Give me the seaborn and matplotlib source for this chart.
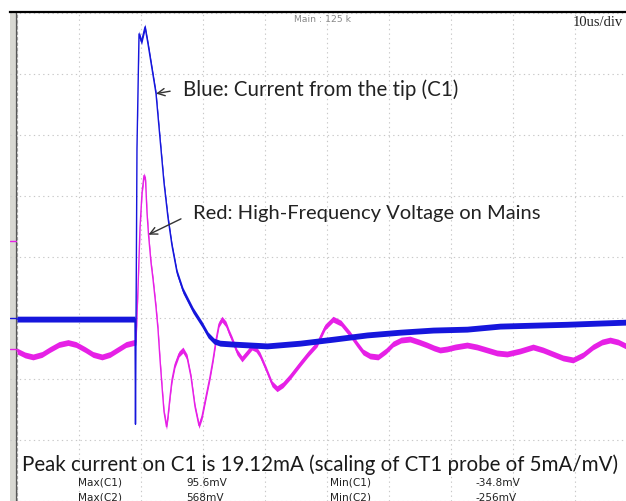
import numpy as np
import pandas as pd
import matplotlib
matplotlib.use("Agg")
import matplotlib.pyplot as plt
import seaborn as sns

# Channel 1 (blue): current probe, mV vs time in us
c1_time = [0.00, 19.03, 19.11, 19.35, 19.68, 20.08, 20.65, 21.13, 21.77, 22.42,
           23.06, 23.71, 24.35, 25.00, 25.81, 26.77, 28.39, 29.84, 30.81, 31.77,
           32.74, 34.84, 40.32, 45.65, 50.97, 56.45, 61.77, 67.10, 72.58, 77.90,
           83.23, 88.71, 94.03, 98.23]
c1_mv = [-0.3, -0.3, -34.8, 55.8, 93.3, 90.7, 95.6, 90.0, 81.9, 73.7,
         59.1, 44.4, 33.0, 23.8, 15.0, 9.1, 2.6, -2.0, -5.5, -7.5,
         -8.2, -8.5, -9.1, -8.2, -6.9, -5.5, -4.6, -3.9, -3.6, -2.6,
         -2.3, -2.0, -1.6, -1.3]

# Channel 2 (magenta): HF voltage on mains
c2_time = [0.00, 1.29, 2.58, 4.03, 5.32, 6.77, 8.23, 9.52, 10.97, 12.26,
           13.71, 15.00, 16.29, 17.58, 18.87, 19.19, 19.52, 19.84, 20.16, 20.48,
           20.73, 20.97, 21.21, 21.61, 21.94, 22.42, 22.74, 23.06, 23.39, 23.71,
           24.11, 24.35, 24.68, 25.00, 25.48, 26.13, 26.77, 27.42, 28.06, 28.71,
           29.35, 29.84, 30.48, 31.13, 31.61, 32.10, 32.58, 33.06, 33.71, 34.19,
           34.68, 35.48, 36.29, 37.10, 37.90, 38.55, 39.19, 40.16, 41.13, 41.94,
           42.90, 44.03, 45.65, 46.94, 48.39, 49.68, 50.97, 52.26, 53.71, 54.84,
           55.81, 56.94, 58.23, 59.52, 60.65, 61.94, 63.39, 64.84, 66.13, 67.26,
           68.23, 69.35, 70.65, 72.58, 74.19, 75.81, 77.42, 79.03, 81.13, 83.23,
           84.84, 86.45, 88.06, 89.68, 91.29, 92.90, 94.35, 95.65, 96.94, 98.23]
c2_mv = [-7.7, -20.7, -27.2, -19.1, -2.8, 13.5, 20.1, 13.5, -2.8, -19.1,
         -27.2, -19.1, -2.8, 13.5, 20.1, 21.7, 201.1, 396.9, 511.1, 568.0,
         553.5, 445.9, 374.1, 282.7, 227.2, 135.9, 64.1, -33.8, -125.1, -206.7,
         -256.0, -223.0, -157.7, -102.3, -53.3, -17.5, -4.4, -27.2, -92.5, -190.4,
         -252.4, -223.0, -157.7, -92.5, -37.0, 28.2, 80.4, 96.7, 80.4, 54.3,
         31.5, -10.9, -33.8, -14.2, 5.4, -1.1, -20.7, -66.4, -115.3, -131.6,
         -118.6, -92.5, -50.1, -17.5, 15.2, 70.6, 96.7, 83.7, 47.8, 15.2,
         -10.9, -24.0, -27.2, -7.7, 15.2, 28.2, 31.5, 21.7, 11.9, 2.1,
         -4.4, -1.1, 5.4, 11.9, 5.4, -4.4, -14.2, -17.5, -7.7, 5.4,
         -4.4, -17.5, -30.5, -37.0, -20.7, 5.4, 21.7, 28.2, 21.7, 8.6]

# scope settings
c1_scale, c1_offset = 20.0, -1.0     # mV/div, div
c2_scale, c2_offset = 200.0, -1.5
trigger_level_mv = 354.0
time_per_div = 10.0

BLUE = "#1616dc"
MAGENTA = "#e620e6"

c1 = pd.DataFrame({"t": c1_time, "div": np.array(c1_mv) / c1_scale + c1_offset})
c2 = pd.DataFrame({"t": c2_time, "div": np.array(c2_mv) / c2_scale + c2_offset})

sns.set_theme(style="white")
plt.rcParams["font.family"] = ["Lato", "DejaVu Sans"]

W, H = 626, 502
fig = plt.figure(figsize=(W / 100, H / 100), dpi=100)
ax = fig.add_axes([10 / W, 0, 616 / W, 489 / H])

x_left = -7 / 62 * time_per_div
ax.set_xlim(x_left, 609 / 62 * time_per_div)
ax.set_ylim(-242.3 / 61.3, 246.7 / 61.3)

# graticule
ax.set_xticks(np.arange(0, 100, time_per_div))
ax.set_yticks(np.arange(-4, 5, 1))
ax.grid(True, color="#c8c8c8", linestyle=(0, (1.2, 3)), linewidth=0.8)
ax.tick_params(length=0, labelbottom=False, labelleft=False)
for side in ["left", "right", "bottom"]:
    ax.spines[side].set_visible(False)
ax.spines["top"].set_color("black")
ax.spines["top"].set_linewidth(1.6)

# left gray strip with channel markers
ax.axvspan(x_left, -0.16, color="#d8d8d2", zorder=0)
ax.axvline(-0.12, color="#555555", lw=0.9)
ax.axvline(0, color="#9a9a9a", lw=0.8, linestyle=(0, (3, 2)))
strip = (-x_left - 0.16) / (ax.get_xlim()[1] - x_left)
ax.axhline(c1_offset, xmin=0, xmax=strip, color=BLUE, lw=1)
ax.axhline(c2_offset, xmin=0, xmax=strip, color=MAGENTA, lw=1)
ax.axhline(trigger_level_mv / c2_scale + c2_offset, xmin=0, xmax=strip, color=MAGENTA, lw=1)

# traces: thin line plus vertical noise band
band = 0.048
for df, col in [(c2, MAGENTA), (c1, BLUE)]:
    ax.fill_between(df["t"], df["div"] - band, df["div"] + band, color=col, lw=0, zorder=3)
    sns.lineplot(data=df, x="t", y="div", ax=ax, color=col, lw=1.0, sort=False,
                 estimator=None, zorder=3)
ax.set_xlabel("")
ax.set_ylabel("")

# annotations
arrow = dict(arrowstyle="->", color="#333333", lw=1.0, relpos=(0, 0.5),
             shrinkA=7, shrinkB=0, mutation_scale=13)
ax.annotate("Blue: Current from the tip (C1)", xy=(c1_time[9], c1["div"][9]),
            xytext=(183, H - 90), textcoords="figure pixels", ha="left", va="center",
            fontsize=14.8, color="#222222", arrowprops=arrow, zorder=5)
ax.annotate("Red: High-Frequency Voltage on Mains", xy=(c2_time[22], c2["div"][22]),
            xytext=(193, H - 214), textcoords="figure pixels", ha="left", va="center",
            fontsize=14.5, color="#222222", arrowprops=arrow, zorder=5)

fig.text(22 / W, 1 - 471 / H, "Peak current on C1 is 19.12mA (scaling of CT1 probe of 5mA/mV)",
         ha="left", va="baseline", fontsize=14.8, color="#1a1a1a")

# measurement table
rows = [("Max(C1)", f"{max(c1_mv):.1f}mV", "Min(C1)", f"{min(c1_mv):.1f}mV", 483),
        ("Max(C2)", f"{max(c2_mv):.0f}mV", "Min(C2)", f"{min(c2_mv):.0f}mV", 498)]
for a, b, c, d, y in rows:
    for x, s in [(78, a), (186, b), (330, c), (475, d)]:
        fig.text(x / W, 1 - y / H, s, ha="left", va="center", fontsize=7.6,
                 family="DejaVu Sans", color="#222222")

fig.text(294 / W, 1 - 20 / H, "Main : 125 k", ha="left", va="center", fontsize=6.7,
         family="DejaVu Sans", color="#888888")
fig.text(573 / W, 1 - 22 / H, "10us/div", ha="left", va="center", fontsize=10.5,
         family="Liberation Serif", color="#222222")

fig.savefig("out.png", dpi=100)
